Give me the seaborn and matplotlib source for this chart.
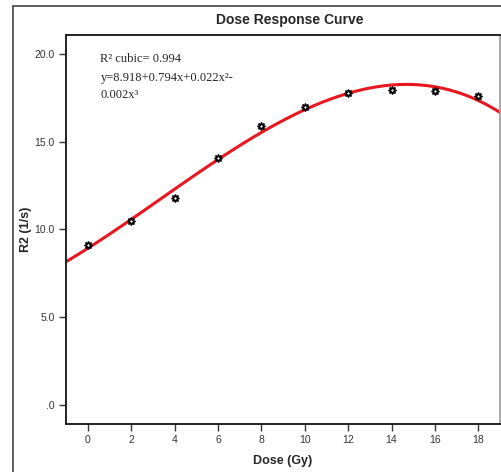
import numpy as np
import pandas as pd
import matplotlib
matplotlib.use("Agg")
import matplotlib.pyplot as plt
import seaborn as sns
from matplotlib.lines import Line2D

dose = [0, 2, 4, 6, 8, 10, 12, 14, 16, 18]
r2 = [9.12, 10.48, 11.78, 14.09, 15.90, 17.00, 17.80, 17.95, 17.88, 17.58]
xticks = [0, 2, 4, 6, 8, 10, 12, 14, 16, 18]
yticks = [0, 5, 10, 15, 20]
ytick_labels = [".0", "5.0", "10.0", "15.0", "20.0"]

sns.set_style("white")
plt.rcParams['font.family'] = ['Liberation Sans', 'DejaVu Sans']

df = pd.DataFrame({"Dose": dose, "R2": r2})

fig = plt.figure(figsize=(5.02, 4.72), dpi=100)
ax = fig.add_axes([66/502, 48/472, 434/502, 389/472])
ax.set_xlim(-1, 19)
ax.set_ylim(-1.08, 21.08)

sns.regplot(data=df, x="Dose", y="R2", order=3, ci=None, truncate=False,
            scatter=False, ax=ax, line_kws=dict(color="#e8171f", lw=2.2))
sns.scatterplot(data=df, x="Dose", y="R2", ax=ax, marker=(8, 1, 0), s=28,
                facecolor="white", edgecolor="black", linewidth=1.1, zorder=5)

ax.set_xticks(xticks)
ax.set_xticklabels([str(t) for t in xticks])
ax.set_yticks(yticks)
ax.set_yticklabels(ytick_labels)
ax.tick_params(axis="both", direction="out", length=5, width=1, color="#333333",
               labelsize=7.5, labelcolor="#333333", bottom=True, left=True, pad=3)
for s in ["left", "bottom", "top"]:
    ax.spines[s].set_color("#222222")
    ax.spines[s].set_linewidth(1.4)
ax.spines["right"].set_color("#999999")
ax.spines["right"].set_linewidth(1.2)

ax.set_xlabel("Dose (Gy)", fontsize=9, fontweight="bold", labelpad=7)
ax.set_ylabel("R2 (1/s)", fontsize=9, fontweight="bold", labelpad=2)
fig.text(290/502, 1 - 20/472, "Dose Response Curve", ha="center", va="center",
         fontsize=10, fontweight="bold")

serif = ['Liberation Serif', 'DejaVu Serif']
ax.text(0.0775, 0.955, "R² cubic= 0.994", transform=ax.transAxes, family=serif,
        fontsize=9, va="top")
ax.text(0.08, 0.905, "y=8.918+0.794x+0.022x²-", transform=ax.transAxes, family=serif,
        fontsize=9, va="top")
ax.text(0.08, 0.860, "0.002x³", transform=ax.transAxes, family=serif,
        fontsize=9, va="top")

# outer frame
fig.add_artist(Line2D([13/502, 13/502], [0, 1 - 6/472], transform=fig.transFigure,
                      color="#444444", lw=1.2))
fig.add_artist(Line2D([13/502, 1], [1 - 6/472, 1 - 6/472], transform=fig.transFigure,
                      color="#444444", lw=1.2))

fig.savefig("out.png", dpi=100)
